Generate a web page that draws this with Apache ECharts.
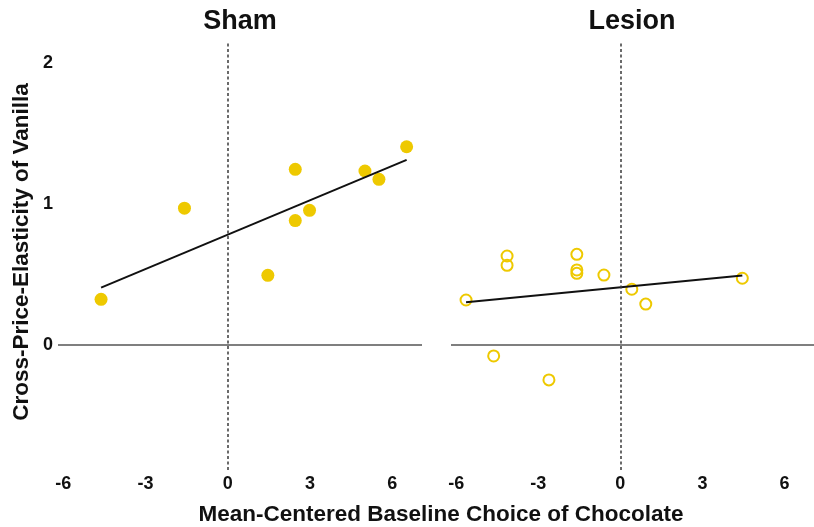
<!DOCTYPE html>
<html>
<head>
<meta charset="utf-8">
<script src="https://cdn.jsdelivr.net/npm/echarts@6/dist/echarts.min.js"></script>
<style>html,body{margin:0;padding:0;background:#fff;}#c{width:814px;height:527px;}</style>
</head>
<body>
<div id="c"></div>
<script>
// ---- data ----
const panelTitles = ['Sham', 'Lesion'];
const shamX = [-4.62, -1.58, 1.46, 2.46, 2.46, 2.98, 5.00, 5.51, 6.52];
const shamY = [0.324, 0.970, 0.494, 1.246, 0.882, 0.955, 1.234, 1.175, 1.406];
const lesionX = [-5.64, -4.14, -4.14, -1.59, -1.59, -1.59, -0.60, 0.42, 0.93, 4.46, -4.63, -2.61];
const lesionY = [0.319, 0.631, 0.565, 0.643, 0.532, 0.508, 0.496, 0.395, 0.290, 0.473, -0.078, -0.248];
const xTicks = [-6, -3, 0, 3, 6];
const yTicks = [0, 1, 2];
const xTitle = 'Mean-Centered Baseline Choice of Chocolate';
const yTitle = 'Cross-Price-Elasticity of Vanilla';

// least-squares fit line across the data range
function fitLine(xs, ys) {
  const n = xs.length;
  const mx = xs.reduce((a, b) => a + b, 0) / n;
  const my = ys.reduce((a, b) => a + b, 0) / n;
  let sxy = 0, sxx = 0;
  for (let i = 0; i < n; i++) { sxy += (xs[i] - mx) * (ys[i] - my); sxx += (xs[i] - mx) ** 2; }
  const b = sxy / sxx, a = my - b * mx;
  const x0 = Math.min(...xs), x1 = Math.max(...xs);
  return [[x0, a + b * x0], [x1, a + b * x1]];
}
const pts = (xs, ys) => xs.map((x, i) => [x, ys[i]]);

const GOLD = '#EEC900';
const FONT = 'Liberation Sans';
const chart = echarts.init(document.getElementById('c'), null, { renderer: 'canvas' });

const xAxisBase = (gi) => ({
  type: 'value', gridIndex: gi, min: -6.19, max: 7.08,
  axisLine: { show: false }, axisTick: { show: false }, splitLine: { show: false },
  axisLabel: { customValues: xTicks, color: '#111', fontFamily: FONT, fontWeight: 'bold', fontSize: 18, margin: 5 }
});
const yAxisBase = (gi, showLab) => ({
  type: 'value', gridIndex: gi, min: -0.887, max: 2.149,
  axisLine: { show: false }, axisTick: { show: false }, splitLine: { show: false },
  axisLabel: { show: showLab, customValues: yTicks, color: '#111', fontFamily: FONT, fontWeight: 'bold', fontSize: 18, margin: 5 }
});
const refLines = {
  silent: true, symbol: 'none', label: { show: false }, animation: false,
  data: [
    { yAxis: 0, lineStyle: { color: '#555', width: 1.5, type: 'solid' } },
    { xAxis: 0, lineStyle: { color: '#3a3a3a', width: 1.5, type: [3, 2.5] } }
  ]
};

chart.setOption({
  animation: false,
  backgroundColor: '#fff',
  grid: [
    { left: 58, top: 42, width: 364, height: 428 },
    { left: 451, top: 42, width: 363, height: 428 }
  ],
  xAxis: [xAxisBase(0), xAxisBase(1)],
  yAxis: [yAxisBase(0, true), yAxisBase(1, false)],
  series: [
    { type: 'line', xAxisIndex: 0, yAxisIndex: 0, data: [], markLine: refLines },
    { type: 'line', xAxisIndex: 1, yAxisIndex: 1, data: [], markLine: refLines },
    { type: 'scatter', xAxisIndex: 0, yAxisIndex: 0, data: pts(shamX, shamY), symbol: 'circle', symbolSize: 13,
      itemStyle: { color: GOLD, opacity: 1 }, z: 3 },
    { type: 'scatter', xAxisIndex: 1, yAxisIndex: 1, data: pts(lesionX, lesionY), symbol: 'circle', symbolSize: 11,
      itemStyle: { color: 'rgba(0,0,0,0)', borderColor: GOLD, borderWidth: 2, opacity: 1 }, z: 3 },
    { type: 'line', xAxisIndex: 0, yAxisIndex: 0, data: fitLine(shamX, shamY), showSymbol: false, symbol: 'none',
      lineStyle: { color: '#111', width: 2 }, z: 4 },
    { type: 'line', xAxisIndex: 1, yAxisIndex: 1, data: fitLine(lesionX, lesionY), showSymbol: false, symbol: 'none',
      lineStyle: { color: '#111', width: 2 }, z: 4 }
  ],
  graphic: [
    { type: 'text', x: 240, y: 22, style: { text: panelTitles[0], align: 'center', verticalAlign: 'middle', fill: '#111', font: 'bold 27px "Liberation Sans"' } },
    { type: 'text', x: 632, y: 22, style: { text: panelTitles[1], align: 'center', verticalAlign: 'middle', fill: '#111', font: 'bold 27px "Liberation Sans"' } },
    { type: 'text', x: 441, y: 515, style: { text: xTitle, align: 'center', verticalAlign: 'middle', fill: '#111', font: 'bold 22.5px "Liberation Sans"' } },
    { type: 'text', x: 22, y: 252, rotation: Math.PI / 2, style: { text: yTitle, align: 'center', verticalAlign: 'middle', fill: '#111', font: 'bold 22.5px "Liberation Sans"' } }
  ]
});
</script>
</body>
</html>
